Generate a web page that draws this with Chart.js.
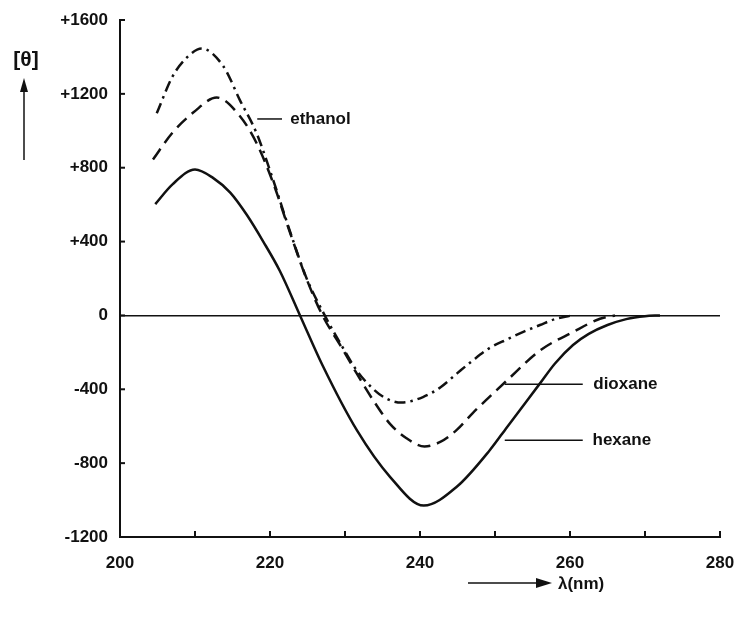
<!DOCTYPE html>
<html>
<head>
<meta charset="utf-8">
<script src="https://cdn.jsdelivr.net/npm/chart.js@4/dist/chart.umd.min.js"></script>
<style>
  html, body { margin: 0; padding: 0; background: #fff; }
  #wrap { width: 738px; height: 618px; position: relative; }
</style>
</head>
<body>
<div id="wrap"><canvas id="cd"></canvas></div>
<script>
// Data (wavelength in nm, [θ])
const hexaneNm   = [204.7, 207, 210, 212.4, 214.7, 216.9, 219.1, 221.3, 224, 227, 231.6, 236, 240.5, 244.9, 249.3, 251.6, 256, 258, 260.4, 262.5, 265, 267.5, 270, 272];
const hexaneVal  = [603, 710, 790, 745, 665, 545, 400, 242, 0, -270, -623, -874, -1030, -928, -730, -605, -368, -260, -160, -100, -52, -20, -4, 0];

const dioxaneNm  = [204.4, 207, 209.8, 212.9, 216, 218.2, 220.4, 222.7, 224.9, 227, 229.5, 231.6, 233.8, 236, 238.2, 240.6, 242.7, 244.9, 247, 249.3, 251.6, 256, 260.4, 264, 266];
const dioxaneVal = [845, 990, 1100, 1180, 1079, 934, 720, 445, 195, 0, -170, -317, -462, -587, -665, -710, -685, -620, -530, -440, -352, -190, -90, -18, 0];

const ethanolNm  = [204.9, 207, 209, 210.9, 213.8, 216, 218.2, 220.4, 222.7, 224.9, 227.3, 229.5, 231.6, 233.8, 235.5, 237.5, 240.4, 242.7, 244.9, 247, 249.3, 251.6, 254, 256, 258, 260];
const ethanolVal = [1095, 1294, 1400, 1445, 1348, 1165, 988, 736, 451, 199, 0, -160, -300, -400, -450, -472, -442, -390, -315, -245, -176, -130, -85, -52, -20, -2];

const xTicks = [200, 220, 240, 260, 280];
const yTicks = [-1200, -800, -400, 0, 400, 800, 1200, 1600];

const INK = '#111';
const FONT = 'bold 17px "Liberation Sans", Arial, sans-serif';

function pts(xs, ys) { return xs.map((x, i) => ({ x: x, y: ys[i] })); }

// ticks, labels, arrows
const extras = {
    id: 'extras',
    afterDraw(chart) {
        const c = chart.ctx, xs = chart.scales.x, ys = chart.scales.y;
        const a = chart.chartArea;
        c.save();
        c.strokeStyle = INK; c.fillStyle = INK; c.lineWidth = 2;

        // inward ticks
        yTicks.forEach(v => {
            const y = ys.getPixelForValue(v);
            c.beginPath(); c.moveTo(a.left, y); c.lineTo(a.left + 5, y); c.stroke();
        });
        for (let v = 210; v <= 280; v += 10) {
            const x = xs.getPixelForValue(v);
            c.beginPath(); c.moveTo(x, a.bottom); c.lineTo(x, a.bottom - 6); c.stroke();
        }

        // curve labels with leader lines
        c.font = FONT; c.textBaseline = 'middle'; c.textAlign = 'left';
        c.lineWidth = 1.5;
        const lab = (x0, x1, v, tx, txt) => {
            const y = ys.getPixelForValue(v);
            c.beginPath(); c.moveTo(xs.getPixelForValue(x0), y); c.lineTo(xs.getPixelForValue(x1), y); c.stroke();
            c.fillText(txt, xs.getPixelForValue(tx), y);
        };
        lab(218.3, 221.6, 1064, 222.7, 'ethanol');
        lab(251.3, 261.7, -373, 263.1, 'dioxane');
        lab(251.3, 261.7, -676, 263.0, 'hexane');

        // y axis title and arrow
        c.font = 'bold 21px "Liberation Sans", Arial, sans-serif';
        c.textAlign = 'center';
        c.fillText('[θ]', 26, 60);
        c.lineWidth = 1.5;
        c.beginPath(); c.moveTo(24, 160); c.lineTo(24, 86); c.stroke();
        c.beginPath(); c.moveTo(24, 78); c.lineTo(20, 92); c.lineTo(28, 92); c.closePath(); c.fill();

        // x axis title and arrow
        c.beginPath(); c.moveTo(468, 583); c.lineTo(540, 583); c.stroke();
        c.beginPath(); c.moveTo(552, 583); c.lineTo(536, 578); c.lineTo(536, 588); c.closePath(); c.fill();
        c.font = FONT; c.textAlign = 'left';
        c.fillText('λ(nm)', 558, 584);
        c.restore();
    }
};

new Chart(document.getElementById('cd'), {
    type: 'line',
    data: {
        datasets: [
            { label: 'hexane', data: pts(hexaneNm, hexaneVal), borderColor: INK, borderWidth: 2.5 },
            { label: 'dioxane', data: pts(dioxaneNm, dioxaneVal), borderColor: INK, borderWidth: 2.5, borderDash: [13, 7] },
            { label: 'ethanol', data: pts(ethanolNm, ethanolVal), borderColor: INK, borderWidth: 2.5, borderDash: [11, 5, 2.5, 5] }
        ]
    },
    options: {
        responsive: true,
        maintainAspectRatio: false,
        animation: false,
        layout: { padding: { left: 0, right: 18, top: 20, bottom: 0 } },
        elements: { point: { radius: 0 }, line: { cubicInterpolationMode: 'monotone', fill: false } },
        plugins: { legend: { display: false }, tooltip: { enabled: false } },
        scales: {
            x: {
                type: 'linear', min: 200, max: 280,
                afterBuildTicks: s => { s.ticks = xTicks.map(v => ({ value: v })); },
                afterFit: s => { s.height = 81; s.paddingLeft = 0; s.paddingRight = 0; },
                ticks: { color: INK, font: { family: '"Liberation Sans", Arial, sans-serif', size: 17, weight: 'bold' }, padding: 16, maxRotation: 0, autoSkip: false },
                grid: { drawOnChartArea: false, drawTicks: false },
                border: { display: true, color: INK, width: 2 }
            },
            y: {
                min: -1200, max: 1600,
                afterBuildTicks: s => { s.ticks = yTicks.map(v => ({ value: v })); },
                afterFit: s => { s.width = 120; s.paddingTop = 0; s.paddingBottom = 0; },
                ticks: {
                    color: INK, padding: 12,
                    font: { family: '"Liberation Sans", Arial, sans-serif', size: 17, weight: 'bold' },
                    callback: v => v > 0 ? '+' + v : String(v)
                },
                grid: {
                    drawTicks: false,
                    color: ctx => ctx.tick && ctx.tick.value === 0 ? INK : 'rgba(0,0,0,0)',
                    lineWidth: 1.5
                },
                border: { display: true, color: INK, width: 2 }
            }
        }
    },
    plugins: [extras]
});
</script>
</body>
</html>
